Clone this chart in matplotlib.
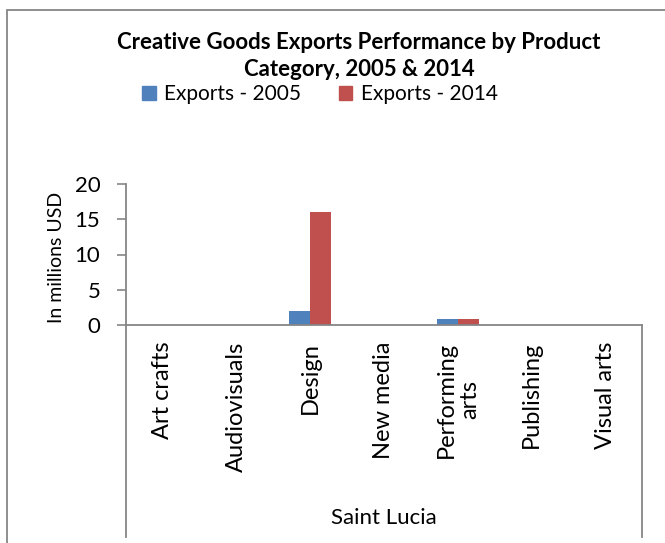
import matplotlib
matplotlib.use('Agg')
import matplotlib.pyplot as plt
import numpy as np
from matplotlib.lines import Line2D
from matplotlib.patches import Rectangle, Patch

categories = ['Art crafts', 'Audiovisuals', 'Design', 'New media', 'Performing\narts', 'Publishing', 'Visual arts']
exports_2005 = [0, 0, 2, 0, 0.9, 0, 0]
exports_2014 = [0, 0, 16, 0, 0.9, 0, 0]
yticks = [0, 5, 10, 15, 20]

blue = '#4F81BD'
red = '#C0504D'
grey = '#868686'
font = 'Lato'

fig = plt.figure(figsize=(6.65, 5.43), dpi=100)
ax = fig.add_axes([126/665, 1 - 325/543, (642 - 126)/665, (325 - 184)/543])

x = np.arange(len(categories))
w = 0.285
ax.bar(x - w/2, exports_2005, w, color=blue)
ax.bar(x + w/2, exports_2014, w, color=red)

ax.set_xlim(-0.5, len(categories) - 0.5)
ax.set_ylim(0, 20)
ax.set_yticks(yticks)
ax.set_yticklabels([str(v) for v in yticks], fontsize=16, family=font)
ax.tick_params(axis='y', length=6.5, width=1.2, color=grey, pad=12)
ax.set_xticks(x)
ax.set_xticklabels(categories, rotation=90, fontsize=17, family=font, va='top', ha='center', linespacing=1.15)
ax.tick_params(axis='x', length=0, pad=12)
for s in ['top', 'right']:
    ax.spines[s].set_visible(False)
for s in ['left', 'bottom']:
    ax.spines[s].set_color(grey)
    ax.spines[s].set_linewidth(1.3)
ax.set_ylabel('In millions USD', fontsize=14, family=font)
ax.yaxis.set_label_coords(-0.118, 0.48)

# category group lines below axis
for px in [126, 642]:
    fig.add_artist(Line2D([px/665, px/665], [1 - 325/543, 1 - 537/543],
                          transform=fig.transFigure, color=grey, lw=1.3))
fig.text(384/665, 1 - 518/543, 'Saint Lucia', ha='center', va='center', fontsize=16, family=font)

# outer chart border
fig.add_artist(Rectangle((7/665, -0.1), 1.2, 1 - 10/543 + 0.1, transform=fig.transFigure,
                         fill=False, edgecolor=grey, lw=1.3))

fig.text(359/665, 1 - 56/543, 'Creative Goods Exports Performance by Product\nCategory, 2005 & 2014',
         ha='center', va='center', fontsize=16, fontweight='bold', family=font, linespacing=1.4)

handles = [Patch(color=blue, label='Exports - 2005'), Patch(color=red, label='Exports - 2014')]
fig.legend(handles=handles, loc='center', bbox_to_anchor=(320/665, 1 - 94/543), ncol=2, frameon=False,
           prop={'family': font, 'size': 15}, handlelength=0.65, handleheight=0.65, handletextpad=0.4,
           columnspacing=1.8)

fig.savefig('out.png', dpi=100)
